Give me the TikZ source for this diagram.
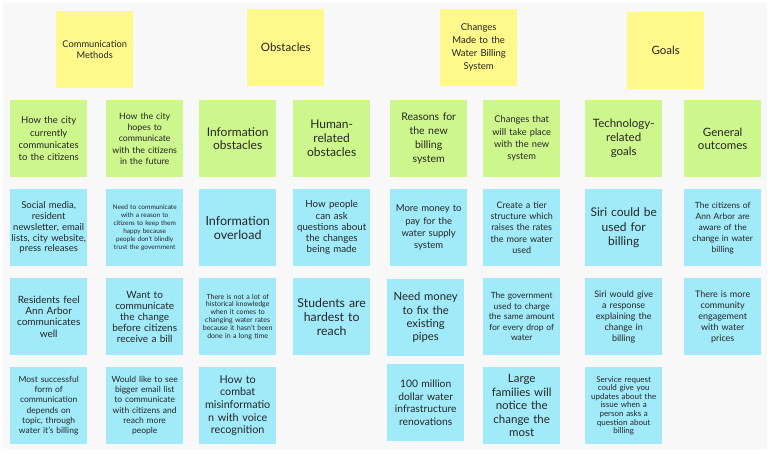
\documentclass[tikz,border=0pt]{standalone}
\usepackage{fontspec}
\setmainfont{Lato}
\usepackage{xcolor}
\usetikzlibrary{calc}

\definecolor{boardgray}{RGB}{248,248,248}
\definecolor{stickyyellow}{RGB}{255,248,138}
\definecolor{stickygreen}{RGB}{205,246,140}
\definecolor{stickyblue}{RGB}{160,234,249}

\tikzset{
  note/.style={anchor=north west, inner sep=1pt, text width=75pt,
    minimum height=77pt, align=center, text=black!85},
  fs/.style 2 args={font=\fontsize{#1}{#2}\selectfont},
  topic/.style={note, fill=stickyyellow},
  theme/.style={note, fill=stickygreen},
  insight/.style={note, fill=stickyblue}
}

\begin{document}
\begin{tikzpicture}[x=1pt,y=-1pt]
\useasboundingbox (0,0) rectangle (772,454);
\fill[boardgray] (3,3) rectangle (767,449);
% topic headers
\node[topic,fs={9.3}{11.5}] (methods) at (56,11) {Communication\\Methods};
\node[topic,fs={11.5}{14}] (obstacles) at (247,9) {Obstacles};
\node[topic,fs={9.5}{13}] (changes) at (440,9) {Changes\\Made to the\\Water Billing\\System};
\node[topic,fs={11.5}{14}] (goals) at (627,12) {Goals};
% themes
\node[theme,fs={9.5}{12.3}] (current) at (10,100) {How the city\\currently\\communicates\\to the citizens};
\node[theme,fs={8.8}{11.3}] (future) at (106,100) {How the city\\hopes to\\communicate\\with the citizens\\in the future};
\node[theme,fs={12}{13.7}] (infoobs) at (199,100) {Information\\obstacles};
\node[theme,fs={12}{14}] (humanobs) at (293,100) {Human-\\related\\obstacles};
\node[theme,fs={10.5}{13.8}] (reasons) at (390,100) {Reasons for\\the new\\billing\\system};
\node[theme,fs={9.3}{12.3}] (newsys) at (483,100) {Changes that\\will take place\\with the new\\system};
\node[theme,fs={11.5}{14}] (techgoals) at (585,100) {Technology-\\related\\goals};
\node[theme,fs={11.5}{13.7}] (outcomes) at (684,100) {General\\outcomes};
% first row of insights
\node[insight,fs={9.5}{10.7}] (social) at (10,189) {Social media,\\resident\\newsletter, email\\lists, city website,\\press releases};
\node[insight,fs={6.5}{8}] (reason) at (106,189) {Need to communicate\\with a reason to\\citizens to keep them\\happy  because\\people don't blindly\\trust the government};
\node[insight,fs={12.5}{14.3}] (overload) at (199,189) {Information\\overload};
\node[insight,fs={9.7}{11.2}] (askq) at (293,189) {How people\\can ask\\questions about\\the changes\\being made};
\node[insight,fs={9.5}{12.4}] (supply) at (390,189) {More money to\\pay for the\\water supply\\system};
\node[insight,fs={9}{11.2}] (tier) at (483,189) {Create a tier\\structure which\\raises the rates\\the more water\\used};
\node[insight,fs={12}{14.5}] (siri) at (585,189) {Siri could be\\used for\\billing};
\node[insight,fs={8.5}{11}] (aware) at (684,189) {The citizens of\\Ann Arbor are\\aware of the\\change in water\\billing};
% second row of insights
\node[insight,fs={10}{11.2}] (feel) at (10,278) {Residents feel\\Ann Arbor\\communicates\\well};
\node[insight,fs={10}{11}] (before) at (106,278) {Want to\\communicate\\the change\\before citizens\\receive a bill};
\node[insight,fs={7}{7.8}] (history) at (199,278) {There is not a lot of\\historical knowledge\\when it comes to\\changing water rates\\because it hasn't been\\done in a long time};
\node[insight,fs={12.3}{14}] (students) at (293,278) {Students are\\hardest to\\reach};
\node[insight,fs={11.3}{13.3}] (pipes) at (387,279) {Need money\\to fix the\\existing\\pipes};
\node[insight,fs={8.5}{10.5}] (same) at (483,278) {The government\\used to charge\\the same amount\\for every drop of\\water};
\node[insight,fs={9}{11}] (response) at (585,278) {Siri would give\\a response\\explaining the\\change in\\billing};
\node[insight,fs={9}{11}] (engage) at (684,278) {There is more\\community\\engagement\\with water\\prices};
% third row of insights
\node[insight,fs={8.5}{10.3}] (success) at (10,367) {Most successful\\form of\\communication\\depends on\\topic, through\\water it's billing};
\node[insight,fs={8.5}{10.3}] (email) at (106,367) {Would like to see\\bigger email list\\to communicate\\with citizens and\\reach more\\people};
\node[insight,fs={10.8}{12.7}] (misinfo) at (199,367) {How to\\combat\\misinformatio\\n with voice\\recognition};
\node[insight,fs={10.3}{12.5}] (million) at (387,364) {100 million\\dollar water\\infrastructure\\renovations};
\node[insight,fs={11.5}{13.6}] (families) at (483,367) {Large\\families will\\notice the\\change the\\most};
\node[insight,fs={8}{8.6}] (request) at (585,367) {Service request\\could give you\\updates about the\\issue when a\\person asks a\\question about\\billing};
\end{tikzpicture}
\end{document}
